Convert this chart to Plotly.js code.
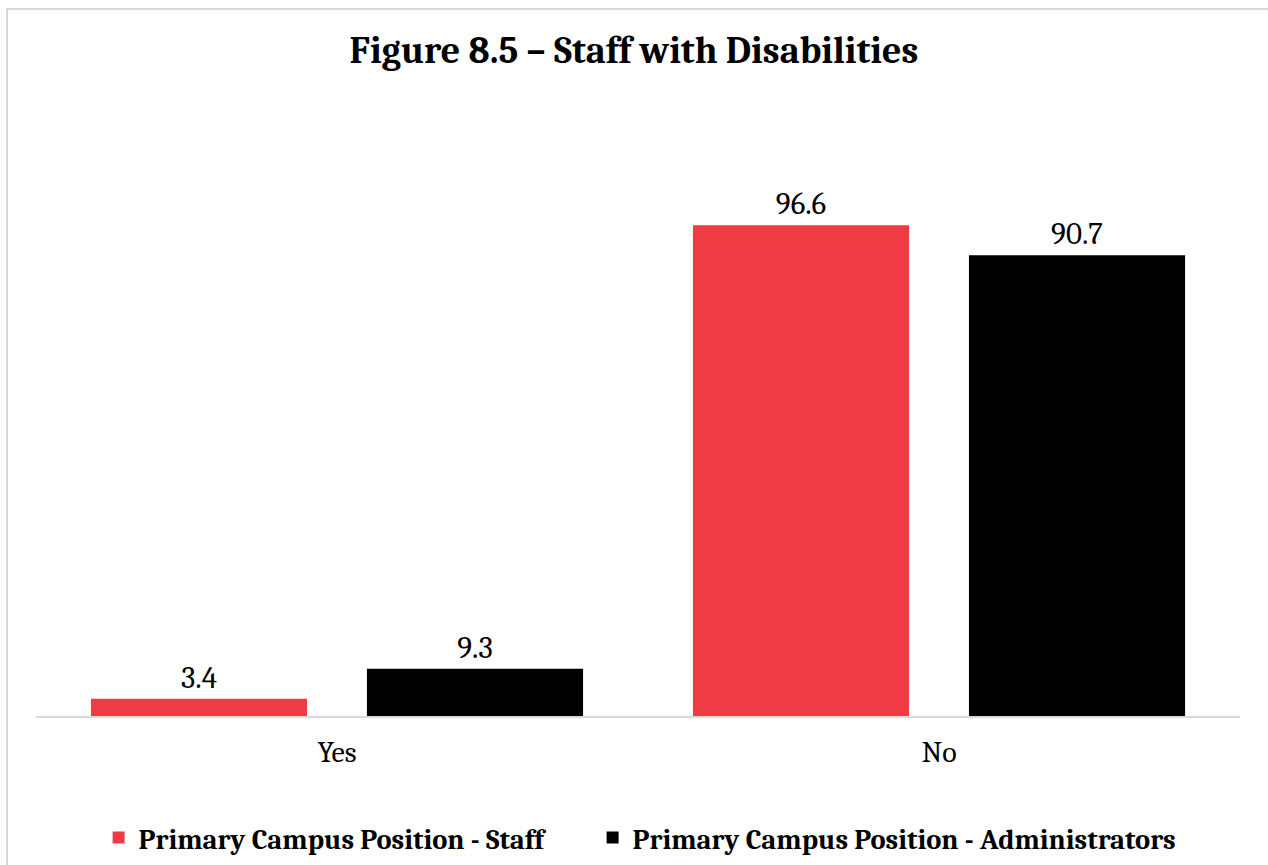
<!DOCTYPE html>
<html>
<head>
<meta charset="utf-8">
<script src="https://cdn.plot.ly/plotly-3.0.1.min.js"></script>
<style>
html,body{margin:0;padding:0;background:#fff;overflow:hidden;}
#chart{position:absolute;left:0;top:0;width:1268px;height:865px;}
#frame{position:absolute;left:6px;top:8px;width:1270px;height:870px;border:2px solid #d9d9d9;pointer-events:none;}
</style>
</head>
<body>
<div id="chart"></div>
<div id="frame"></div>
<script>
const categories = ["Yes", "No"];
const staffValues = [3.4, 96.6];
const adminValues = [9.3, 90.7];
const seriesNames = ["Primary Campus Position - Staff", "Primary Campus Position - Administrators"];

const serif = "Cambria, Caladea, 'DejaVu Serif Condensed', serif";

const traces = [
  {type:'bar', name:seriesNames[0], x:categories, y:staffValues, legend:'legend',
   marker:{color:'#ef3b44'}, text:staffValues.map(v=>v.toFixed(1)), textposition:'outside',
   textfont:{family:serif, size:31, color:'#000'}, cliponaxis:false, constraintext:'none'},
  {type:'bar', name:seriesNames[1], x:categories, y:adminValues, legend:'legend2',
   marker:{color:'#000000'}, text:adminValues.map(v=>v.toFixed(1)), textposition:'outside',
   textfont:{family:serif, size:31, color:'#000'}, cliponaxis:false, constraintext:'none'}
];

const legendFont = {family:serif, size:28.5, color:'#000', weight:'bold'};

const layout = {
  width:1268, height:865,
  paper_bgcolor:'#fff', plot_bgcolor:'#fff',
  margin:{l:36, r:28, t:208, b:149, autoexpand:false},
  title:{text:'<b>Figure 8.5 – Staff with Disabilities</b>', x:0.5, xanchor:'center', y:0.943, yanchor:'middle',
         font:{family:serif, size:38, color:'#000'}},
  barmode:'group', bargap:0.083, bargroupgap:0.217,
  xaxis:{showline:true, linecolor:'#d9d9d9', linewidth:2, ticks:'', showgrid:false,
         tickfont:{family:serif, size:30, color:'#000'}, ticklabelstandoff:8},
  yaxis:{range:[0,100], visible:false, showgrid:false, zeroline:false},
  showlegend:true,
  legend:{orientation:'h', x:0.052, xanchor:'left', y:-0.24, yanchor:'middle',
          font:legendFont, itemwidth:30},
  legend2:{orientation:'h', x:0.4623, xanchor:'left', y:-0.24, yanchor:'middle',
          font:legendFont, itemwidth:30}
};

Plotly.newPlot('chart', traces, layout, {displayModeBar:false, staticPlot:true});
</script>
</body>
</html>
